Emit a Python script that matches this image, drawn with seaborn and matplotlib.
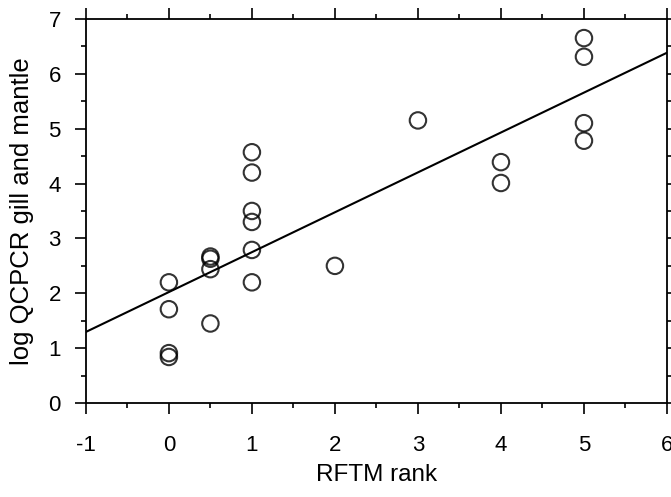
import matplotlib
matplotlib.use("Agg")
import matplotlib.pyplot as plt
import seaborn as sns
import pandas as pd
from matplotlib.ticker import MultipleLocator

rftm_rank = [0, 0, 0, 0,
             0.5, 0.5, 0.5, 0.5,
             1, 1, 1, 1, 1, 1,
             2, 3, 4, 4,
             5, 5, 5, 5]
log_qcpcr = [2.20, 1.71, 0.91, 0.84,
             2.67, 2.63, 2.44, 1.45,
             2.79, 2.20, 3.30, 3.50, 4.20, 4.57,
             2.50, 5.15, 4.39, 4.01,
             6.65, 6.31, 5.10, 4.78]
x_ticks = [-1, 0, 1, 2, 3, 4, 5, 6]
y_ticks = [0, 1, 2, 3, 4, 5, 6, 7]

df = pd.DataFrame({"RFTM rank": rftm_rank, "log QCPCR gill and mantle": log_qcpcr})

sns.set_theme(style="ticks")
plt.rcParams["font.family"] = ["Liberation Sans", "DejaVu Sans"]

fig = plt.figure(figsize=(6.71, 4.97), dpi=100)
ax = fig.add_axes([0.128, 0.189, 0.866, 0.773])
ax.set_xlim(-1, 6)
ax.set_ylim(0, 7)

sns.regplot(data=df, x="RFTM rank", y="log QCPCR gill and mantle", ax=ax,
            ci=None, truncate=False,
            scatter_kws=dict(s=140, facecolors="none", edgecolors="black", linewidths=1.5),
            line_kws=dict(color="black", lw=1.5))

ax.set_xlim(-1, 6)
ax.set_ylim(0, 7)
ax.set_xticks(x_ticks)
ax.set_yticks(y_ticks)
ax.set_xticklabels([str(t) for t in x_ticks])
ax.set_yticklabels([str(t) for t in y_ticks])
ax.xaxis.set_minor_locator(MultipleLocator(0.5))
ax.yaxis.set_minor_locator(MultipleLocator(0.5))
ax.tick_params(which="both", direction="out", top=True, right=True, color="black",
               labelsize=16, labelcolor="black", width=1.2)
ax.tick_params(which="major", length=8)
ax.tick_params(which="minor", length=3.5)
ax.tick_params(axis="x", which="major", pad=15)
ax.tick_params(axis="y", which="major", pad=10)
for s in ax.spines.values():
    s.set_visible(True)
    s.set_linewidth(1.3)
    s.set_color("black")
ax.set_xlabel("RFTM rank", fontsize=17.5, color="black", labelpad=6)
ax.set_ylabel("log QCPCR gill and mantle", fontsize=18.5, color="black", labelpad=10)
ax.grid(False)

fig.savefig("out.png", dpi=100)
